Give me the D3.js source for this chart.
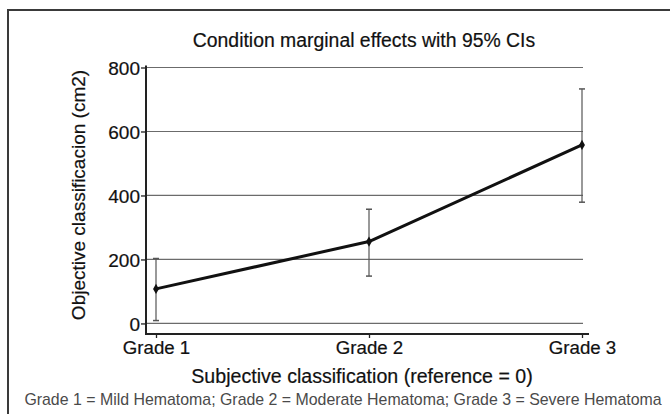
<!DOCTYPE html>
<html><head><meta charset="utf-8">
<script src="https://cdn.jsdelivr.net/npm/d3@7"></script>
<style>body{margin:0;background:#fff}text{font-family:"Liberation Sans",Arial,Helvetica,sans-serif}</style>
</head><body>
<svg id="c" width="670" height="414"></svg>
<script>
const categories = ["Grade 1", "Grade 2", "Grade 3"];
const estimates = [108, 256, 558];
const ciLower = [9, 148, 379];
const ciUpper = [203, 357, 733];
const yTicks = [0, 200, 400, 600, 800];
const title = "Condition marginal effects with 95% CIs";
const yTitle = "Objective classificacion (cm2)";
const xTitle = "Subjective classification (reference = 0)";
const note = "Grade 1 = Mild Hematoma; Grade 2 = Moderate Hematoma; Grade 3 = Severe Hematoma";

const svg = d3.select("#c");
// frame
svg.append("path").attr("d","M8,414V10H670").attr("fill","none").attr("stroke","#3a3a3a").attr("stroke-width",2);

const x = d3.scalePoint().domain(categories).range([156, 582]);
const y = d3.scaleLinear().domain([-33, 800]).range([334, 67.5]);
const axisX0 = 146, axisXEnd = 589;

// gridlines
svg.append("g").selectAll("line").data(yTicks).join("line")
  .attr("x1", axisX0).attr("x2", 583)
  .attr("y1", d => y(d)).attr("y2", d => y(d))
  .attr("stroke", "#6b6b6b").attr("stroke-width", 1.2);

const heavy = sel => sel.attr("stroke","#111").attr("stroke-width",0.2);

// y axis
const ya = svg.append("g").attr("transform", `translate(${axisX0},0)`)
  .call(d3.axisLeft(y).tickValues(yTicks).tickSize(5).tickPadding(1).tickSizeOuter(0));
ya.select(".domain").attr("d", `M0,${y(800)-2}V${y(-33)+1}`).attr("stroke","#222").attr("stroke-width",2);
ya.selectAll(".tick line").attr("stroke","#222").attr("stroke-width",1.3);
ya.selectAll(".tick text").attr("font-size",19).attr("fill","#111").attr("dy","0.36em").call(heavy);

// x axis
const xa = svg.append("g").attr("transform", `translate(0,${y(-33)})`)
  .call(d3.axisBottom(x).tickSize(4).tickPadding(3).tickSizeOuter(0));
xa.select(".domain").attr("d", `M${axisX0-1},0H${axisXEnd}`).attr("stroke","#222").attr("stroke-width",2);
xa.selectAll(".tick line").attr("stroke","#222").attr("stroke-width",1.3);
xa.selectAll(".tick text").attr("font-size",18.7).attr("fill","#111").call(heavy);

// error bars
const eb = svg.append("g").selectAll("g").data(categories).join("g");
eb.append("line").attr("x1", d=>x(d)).attr("x2", d=>x(d))
  .attr("y1", (d,i)=>y(ciLower[i])).attr("y2", (d,i)=>y(ciUpper[i]))
  .attr("stroke","#555").attr("stroke-width",1.2);
eb.append("line").attr("x1", d=>x(d)-3).attr("x2", d=>x(d)+3)
  .attr("y1", (d,i)=>y(ciLower[i])).attr("y2", (d,i)=>y(ciLower[i]))
  .attr("stroke","#555").attr("stroke-width",1.5);
eb.append("line").attr("x1", d=>x(d)-3).attr("x2", d=>x(d)+3)
  .attr("y1", (d,i)=>y(ciUpper[i])).attr("y2", (d,i)=>y(ciUpper[i]))
  .attr("stroke","#555").attr("stroke-width",1.5);

// line
const line = d3.line().x((d,i)=>x(categories[i])).y(d=>y(d));
svg.append("path").datum(estimates).attr("d", line)
  .attr("fill","none").attr("stroke","#111").attr("stroke-width",3).attr("stroke-linejoin","round");

// points
svg.append("g").selectAll("path").data(estimates).join("path")
  .attr("d", d3.symbol(d3.symbolDiamond, 30))
  .attr("transform", (d,i)=>`translate(${x(categories[i])},${y(d)})`)
  .attr("fill","#111");

// texts
svg.append("text").attr("x",364).attr("y",47).attr("text-anchor","middle")
  .attr("font-size",19.4).attr("fill","#111").call(heavy).text(title);
svg.append("text").attr("transform","translate(85,195) rotate(-90)").attr("text-anchor","middle")
  .attr("font-size",19).attr("fill","#111").call(heavy).text(yTitle);
svg.append("text").attr("x",362).attr("y",383).attr("text-anchor","middle")
  .attr("font-size",19.6).attr("fill","#111").call(heavy).text(xTitle);
svg.append("text").attr("x",343).attr("y",405).attr("text-anchor","middle")
  .attr("font-size",15.9).attr("fill","#4a4a4a").text(note);
</script>
</body></html>
